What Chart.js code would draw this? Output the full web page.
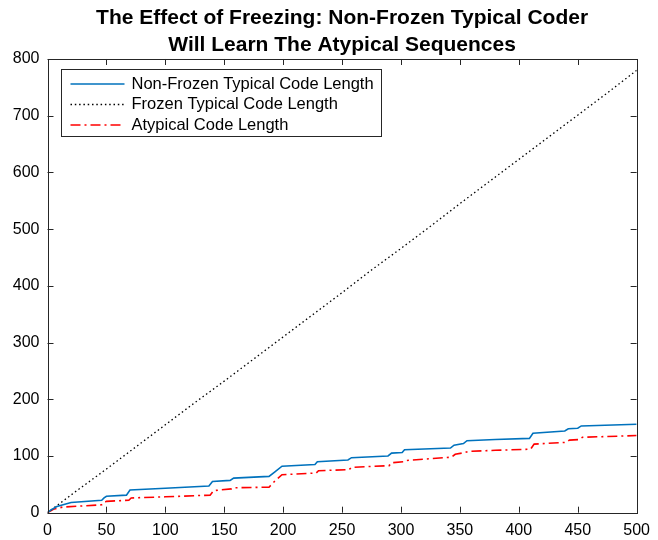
<!DOCTYPE html>
<html>
<head>
<meta charset="utf-8">
<script src="https://cdn.jsdelivr.net/npm/chart.js"></script>
<style>
  body { margin: 0; background: #fff; }
  canvas { display: block; }
</style>
</head>
<body>
<canvas id="freezeChart" width="658" height="540"></canvas>
<script>
// values
const nonFrozenX = [0, 3, 8, 20, 46, 48, 50, 67, 70, 100, 137, 140, 155, 158, 188, 193, 199, 227, 229, 255, 258, 289, 292, 301, 303, 342, 345, 353, 356, 380, 409, 412, 439, 442, 450, 453, 500];
const nonFrozenY = [0, 5, 11, 18, 22, 26, 29, 31, 40, 43, 47, 55, 57, 61, 64, 72, 82, 85, 90, 93, 97, 100, 105, 106, 111, 114, 119, 122, 127, 129, 131, 140, 144, 148, 149, 153, 156];

const frozenX = [0, 25, 50, 75, 100, 125, 150, 175, 200, 225, 250, 275, 300, 325, 350, 375, 400, 425, 450, 475, 500];
const frozenY = [0, 39, 77, 116, 155, 194, 232, 271, 310, 349, 388, 428, 466, 505, 545, 584, 623, 662, 701, 740, 780];

const atypicalX = [0, 5, 13, 30, 46, 48, 50, 69, 71, 100, 138, 141, 156, 158, 188, 193, 199, 228, 230, 256, 258, 290, 292, 302, 304, 343, 346, 354, 357, 380, 410, 413, 440, 443, 451, 454, 500];
const atypicalY = [0, 6, 10, 12, 14, 18, 20, 22, 26, 28, 31, 39, 42, 44, 45, 56, 67, 70, 74, 76, 80, 83, 88, 90, 92, 98, 103, 106, 108, 110, 112, 121, 124, 128, 129, 133, 136];

const seriesLabels = ['Non-Frozen Typical Code Length', 'Frozen Typical Code Length', 'Atypical Code Length'];
const titleLines = ['The Effect of Freezing: Non-Frozen Typical Coder', 'Will Learn The Atypical Sequences'];

const FONT = "'Liberation Sans', Arial, sans-serif";
const AXIS_COLOR = '#262626';

function toPoints(xs, ys) {
    return xs.map((x, i) => ({ x: x, y: ys[i] }));
}

// centre the title over the plot box, not the whole canvas
const titleOverPlot = {
    id: 'titleOverPlot',
    afterLayout(chart) {
        const tb = chart.titleBlock;
        if (!tb) return;
        tb.left = chart.chartArea.left;
        tb.right = chart.chartArea.right;
        tb.width = tb.right - tb.left;
    }
};

// MATLAB-like box with inward ticks on all four sides
const boxAxes = {
    id: 'boxAxes',
    afterDatasetsDraw(chart) {
        const ctx = chart.ctx;
        const a = chart.chartArea;
        const xs = chart.scales.x, ys = chart.scales.y;
        const len = 6;
        ctx.save();
        ctx.strokeStyle = AXIS_COLOR;
        ctx.lineWidth = 1;
        ctx.setLineDash([]);
        ctx.beginPath();
        xs.ticks.forEach(t => {
            const px = Math.round(xs.getPixelForValue(t.value)) + 0.5;
            ctx.moveTo(px, a.bottom); ctx.lineTo(px, a.bottom - len);
            ctx.moveTo(px, a.top); ctx.lineTo(px, a.top + len);
        });
        ys.ticks.forEach(t => {
            const py = Math.round(ys.getPixelForValue(t.value)) + 0.5;
            ctx.moveTo(a.left, py); ctx.lineTo(a.left + len, py);
            ctx.moveTo(a.right, py); ctx.lineTo(a.right - len, py);
        });
        ctx.stroke();
        ctx.strokeRect(Math.round(a.left) + 0.5, Math.round(a.top) + 0.5,
            Math.round(a.right - a.left), Math.round(a.bottom - a.top));
        ctx.restore();
    }
};

// legend box in the upper left of the axes
const boxLegend = {
    id: 'boxLegend',
    afterDraw(chart) {
        const ctx = chart.ctx;
        const a = chart.chartArea;
        const left = a.left + 13, top = a.top + 10;
        const rowH = 20.5;
        ctx.save();
        ctx.font = '16.5px ' + FONT;
        let maxW = 0;
        chart.data.datasets.forEach(ds => { maxW = Math.max(maxW, ctx.measureText(ds.label).width); });
        const textX = left + 71;
        const w = Math.round(textX + maxW + 7 - left);
        const h = 67;
        ctx.fillStyle = '#fff';
        ctx.fillRect(left, top, w, h);
        ctx.strokeStyle = AXIS_COLOR;
        ctx.lineWidth = 1;
        ctx.strokeRect(Math.round(left) + 0.5, Math.round(top) + 0.5, w, h);
        chart.data.datasets.forEach((ds, i) => {
            const cy = top + 15 + i * rowH;
            ctx.beginPath();
            ctx.strokeStyle = ds.borderColor;
            ctx.lineWidth = ds.borderWidth;
            ctx.setLineDash(ds.borderDash || []);
            ctx.moveTo(left + 10, cy);
            ctx.lineTo(left + 64, cy);
            ctx.stroke();
            ctx.setLineDash([]);
            ctx.fillStyle = '#000';
            ctx.textBaseline = 'middle';
            ctx.textAlign = 'left';
            ctx.fillText(ds.label, textX, cy);
        });
        ctx.restore();
    }
};

const freezeChart = new Chart(document.getElementById('freezeChart').getContext('2d'), {
    type: 'line',
    data: {
        datasets: [
            {
                label: seriesLabels[0],
                data: toPoints(nonFrozenX, nonFrozenY),
                borderColor: '#0072BD',
                borderWidth: 1.6,
                pointRadius: 0,
                tension: 0,
                fill: false
            },
            {
                label: seriesLabels[1],
                data: toPoints(frozenX, frozenY),
                borderColor: '#000000',
                borderWidth: 1.3,
                borderDash: [1.5, 2.8],
                pointRadius: 0,
                tension: 0,
                fill: false
            },
            {
                label: seriesLabels[2],
                data: toPoints(atypicalX, atypicalY),
                borderColor: '#FF0000',
                borderWidth: 1.6,
                borderDash: [10, 4, 2, 4],
                pointRadius: 0,
                tension: 0,
                fill: false
            }
        ]
    },
    options: {
        responsive: false,
        animation: false,
        layout: {
            padding: { left: 0, right: 14.5, top: 0, bottom: 0 }
        },
        plugins: {
            legend: { display: false },
            tooltip: { enabled: false },
            title: {
                display: true,
                text: titleLines,
                color: '#000',
                font: { family: FONT, size: 21, weight: 'bold', lineHeight: 1.2857 },
                padding: { top: 5, bottom: 0 }
            }
        },
        scales: {
            x: {
                type: 'linear',
                min: 0,
                max: 500,
                grid: { display: false, drawTicks: false },
                border: { display: false },
                ticks: {
                    stepSize: 50,
                    color: '#000',
                    padding: 8,
                    maxRotation: 0,
                    font: { family: FONT, size: 16 }
                },
                afterFit: s => { s.height = 27.3; }
            },
            y: {
                type: 'linear',
                min: 0,
                max: 800,
                grid: { display: false, drawTicks: false },
                border: { display: false },
                ticks: {
                    stepSize: 100,
                    color: '#000',
                    padding: 8,
                    font: { family: FONT, size: 16 }
                },
                afterFit: s => { s.width = 47.5; }
            }
        }
    },
    plugins: [titleOverPlot, boxAxes, boxLegend]
});
</script>
</body>
</html>
